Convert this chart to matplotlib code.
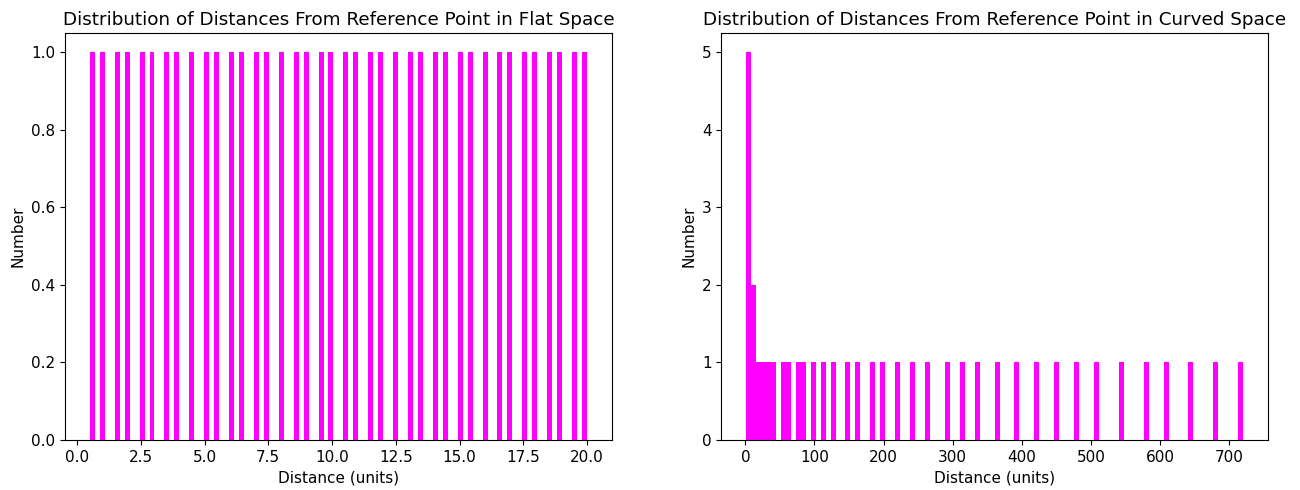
import matplotlib
matplotlib.use("Agg")
import matplotlib.pyplot as plt

# Distances from the reference point in flat space (units)
flat_distances = [0.5, 1.0, 1.5, 2.0, 2.5, 3.0, 3.5, 4.0, 4.5, 5.0,
                  5.5, 6.0, 6.5, 7.0, 7.5, 8.0, 8.5, 9.0, 9.5, 10.0,
                  10.5, 11.0, 11.5, 12.0, 12.5, 13.0, 13.5, 14.0, 14.5, 15.0,
                  15.5, 16.0, 16.5, 17.0, 17.5, 18.0, 18.5, 19.0, 19.5, 20.0]

# Distances from the reference point in curved space (units)
curved_distances = [1.0, 2.5, 4.2, 5.8, 7.5, 10.5, 14.0, 18.0, 26.0, 33.0,
                    40.0, 54.0, 61.0, 76.0, 84.0, 98.0, 112.0, 127.0, 148.0, 162.0,
                    184.5, 199.0, 220.0, 242.0, 263.0, 292.0, 314.0, 336.0, 364.0, 393.0,
                    422.0, 451.0, 480.0, 509.0, 545.0, 581.0, 610.0, 646.0, 682.0, 720.5]

n_bins = 100

plt.rcParams['font.size'] = 11

fig, (ax1, ax2) = plt.subplots(1, 2, figsize=(13, 4.9), dpi=100)
fig.subplots_adjust(left=0.05, right=0.9754, bottom=0.102, top=0.9327, wspace=0.2)

ax1.hist(flat_distances, bins=n_bins, color='magenta')
ax1.set_title('Distribution of Distances From Reference Point in Flat Space')
ax1.set_xlabel('Distance (units)')
ax1.set_ylabel('Number')

ax2.hist(curved_distances, bins=n_bins, color='magenta')
ax2.set_title('Distribution of Distances From Reference Point in Curved Space')
ax2.set_xlabel('Distance (units)')
ax2.set_ylabel('Number')

fig.savefig('out.png')
